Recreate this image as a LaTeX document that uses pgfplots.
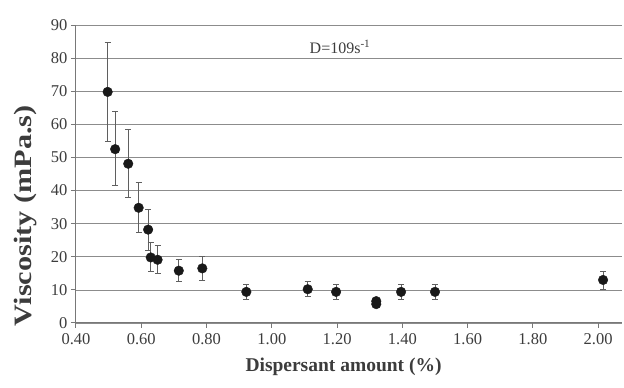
\documentclass[border=0pt]{standalone}
\usepackage{pgfplots}
\pgfplotsset{compat=1.18}
\usepackage{pgfplotstable}
\usepackage{fontspec}
\setmainfont{Liberation Serif}
\definecolor{axgray}{RGB}{120,120,120}
\definecolor{gridgray}{RGB}{140,140,140}
\definecolor{errgray}{RGB}{95,95,95}
\definecolor{txtgray}{RGB}{60,60,60}
\pgfplotstableread{
x y ep em
0.497 69.8 15.0 14.9
0.520 52.5 11.4 11.1
0.560 48.1 10.5 10.3
0.592 34.8 7.7 7.4
0.621 28.2 6.0 6.2
0.629 19.8 4.4 4.2
0.650 19.1 4.2 4.2
0.715 15.8 3.4 3.4
0.787 16.5 3.5 3.5
0.922 9.4 2.1 2.2
1.110 10.2 2.3 2.3
1.197 9.4 2.2 2.2
1.320 6.6 0.4 0.4
1.320 5.7 0.4 0.4
1.396 9.4 2.2 2.2
1.500 9.4 2.2 2.2
2.015 13.0 2.5 3.0
}\datatable
\begin{document}
\begin{tikzpicture}
\useasboundingbox (-76pt,-65pt) rectangle (548pt,323pt);
\begin{axis}[
  at={(0,0)}, anchor=south west,
  scale only axis,
  width=546pt, height=298pt,
  xmin=0.40, xmax=2.073,
  ymin=0, ymax=90,
  xtick={0.4,0.6,...,2.01},
  ytick={0,10,...,90},
  axis x line*=bottom,
  axis y line*=left,
  axis line style={axgray, line width=1pt, -},
  ymajorgrids,
  grid style={gridgray, line width=0.7pt},
  tick style={axgray, line width=1pt},
  tick align=outside,
  major tick length=5pt,
  x tick label style={yshift=-2pt, /pgf/number format/.cd, fixed, fixed zerofill, precision=2},
  /pgf/number format/assume math mode=true,
  ticklabel style={font=\fontsize{16.5}{18}\selectfont, text=txtgray},
  xlabel={\textbf{Dispersant amount (\%)}},
  ylabel={\textbf{Viscosity (mPa.s)}},
  xlabel style={font=\fontsize{19.5}{22}\selectfont, text=txtgray, at={(axis description cs:0.49,0)}, anchor=north, yshift=-31pt},
  ylabel style={font=\fontsize{25}{28}\selectfont, text=txtgray, at={(axis description cs:-0.093,0.36)}, anchor=center, xscale=1.21},
  clip=false,
]
\addplot[only marks, mark=*, mark size=4.8pt, mark options={fill=black!90, draw=black!90},
  error bars/.cd, y dir=both, y explicit,
  error bar style={errgray, line width=0.9pt},
  error mark options={rotate=90, mark size=3pt, errgray, line width=0.9pt}]
  table[x=x, y=y, y error plus=ep, y error minus=em] {\datatable};
\node[font=\fontsize{16}{18}\selectfont, text=txtgray] at (axis cs:1.209,83.4) {D=109s\textsuperscript{-1}};
\end{axis}
\end{tikzpicture}
\end{document}
